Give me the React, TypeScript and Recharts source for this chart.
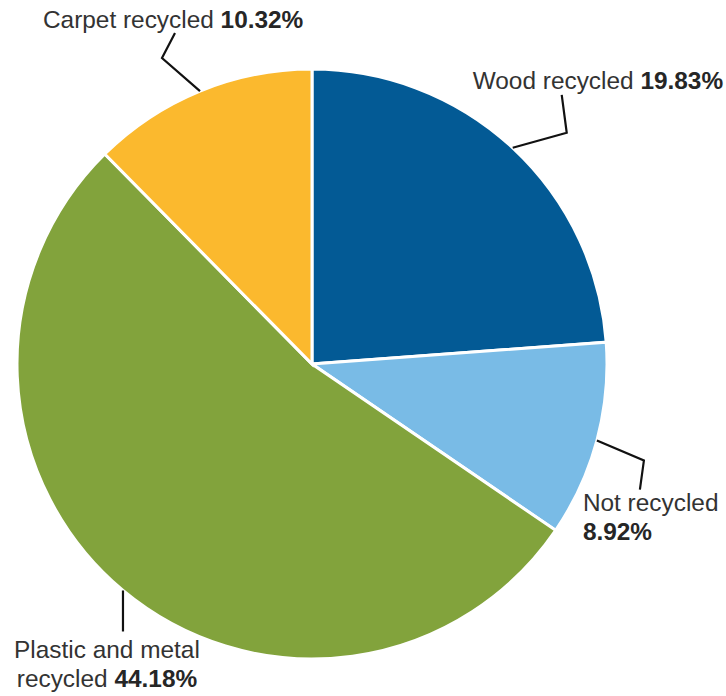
import { Cell, Pie, PieChart } from 'recharts'

const categories = ['Wood recycled', 'Not recycled', 'Plastic and metal recycled', 'Carpet recycled']
const shares = [19.83, 8.92, 44.18, 10.32]
const shareLabels = ['19.83%', '8.92%', '44.18%', '10.32%']

const colors = ['#035a95', '#79bbe6', '#82a33c', '#fbb92e']

// leader line elbow/end and text placement, relative to the slice's outer mid point
const labelLayout = [
  { line: [[54, -15], [49, -53]], text: [-40, -59], anchor: 'start', lines: [['Wood recycled ', 0]] },
  { line: [[47, 20], [43, 49]], text: [-14, 70], anchor: 'start', lines: [['Not recycled', -1], ['', 0]] },
  { line: [[0, 41]], text: [-16, 68], anchor: 'middle', lines: [['Plastic and metal', -1], ['recycled ', 0]] },
  { line: [[-38, -33], [-25, -58]], text: [-157, -63], anchor: 'start', lines: [['Carpet recycled ', 0]] },
]

const data = categories.map((name, i) => ({ name, value: shares[i], pct: shareLabels[i] }))

const RAD = Math.PI / 180

function PieLabel(props: any) {
  const { cx, cy, midAngle, outerRadius, index } = props
  const layout = labelLayout[index]
  const sx = cx + outerRadius * Math.cos(-midAngle * RAD)
  const sy = cy + outerRadius * Math.sin(-midAngle * RAD)
  const pts = [[sx, sy], ...layout.line.map(([dx, dy]) => [sx + dx, sy + dy])]
  const tx = sx + layout.text[0]
  const ty = sy + layout.text[1]
  return (
    <g>
      <polyline
        points={pts.map((p) => p.join(',')).join(' ')}
        fill="none"
        stroke="#111"
        strokeWidth={2.2}
      />
      <text
        x={tx}
        y={ty}
        textAnchor={layout.anchor}
        fontFamily="'Liberation Sans', Arial, sans-serif"
        fontSize={24.4}
        fill="#333"
      >
        {layout.lines.map(([txt, bold], li) => (
          <tspan key={li} x={tx} dy={li === 0 ? 0 : 29}>
            {txt}
            {bold === 0 && (
              <tspan fontWeight="bold" fill="#262626">
                {data[index].pct}
              </tspan>
            )}
          </tspan>
        ))}
      </text>
    </g>
  )
}

export default function App() {
  return (
    <div style={{ position: 'absolute', left: 0, top: 0, width: 726, height: 696, background: '#fff' }}>
      <PieChart width={726} height={696} margin={{ top: 0, right: 0, bottom: 0, left: 0 }}>
        <Pie
          data={data}
          dataKey="value"
          nameKey="name"
          cx={312}
          cy={364}
          outerRadius={295}
          startAngle={90}
          endAngle={-270}
          stroke="#fff"
          strokeWidth={3}
          label={PieLabel}
          labelLine={false}
          isAnimationActive={false}
        >
          {data.map((d, i) => (
            <Cell key={d.name} fill={colors[i]} />
          ))}
        </Pie>
      </PieChart>
    </div>
  )
}
